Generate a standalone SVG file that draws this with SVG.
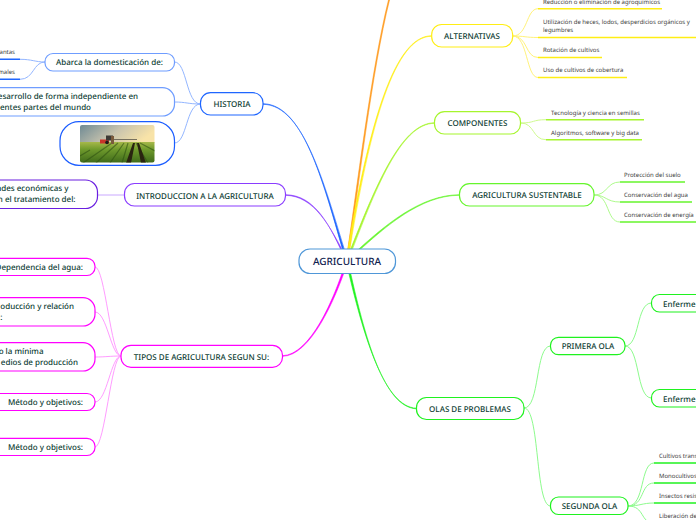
<svg xmlns="http://www.w3.org/2000/svg" width="696" height="520" viewBox="0 0 696 520">
<style>
text{font-family:"Noto Sans","Open Sans","Liberation Sans",sans-serif;fill:#0d3d33;text-rendering:geometricPrecision}
.m{font-size:8px;font-weight:500;text-anchor:middle}
.t{font-size:8px;font-weight:500}
.e{text-anchor:end}
.s{font-size:6px;fill:#3a3a3a}
.n{fill:#fff;stroke-width:1.2}
.c{fill:none;stroke-width:1}
.u{fill:none;stroke-width:1.5}
.b{stroke-width:0.6}
</style>
<defs>
<linearGradient id="sky" x1="0" y1="0" x2="1" y2="0.3"><stop offset="0" stop-color="#6f8a94"/><stop offset="0.55" stop-color="#c9c4ae"/><stop offset="1" stop-color="#f8e3a8"/></linearGradient>
<linearGradient id="fld" x1="0" y1="0" x2="0" y2="1"><stop offset="0" stop-color="#a6b84a"/><stop offset="0.35" stop-color="#6f9a2c"/><stop offset="1" stop-color="#3f6a1a"/></linearGradient>
<clipPath id="ph"><rect x="80" y="125" width="74.500" height="37.500" rx="2"/></clipPath>
</defs>
<g id="connectors">
<path class="b" fill="#1f66ff" stroke="#1f66ff" d="M346,261C325,190 305,104 263,103.700L263,104.300C305.500,105 325.500,190 348,261Z"/>
<path class="b" fill="#8a3dff" stroke="#8a3dff" d="M346,261C330,225 315,195 285.500,194.700L285.500,195.300C314.500,196 330,226 348,261Z"/>
<path class="b" fill="#f0f" stroke="#f0f" d="M346,261C334,300 310,355 282.500,355.700L282.500,356.300C310,356 335,301 348,261Z"/>
<path class="b" fill="#ff9a1f" stroke="#ff9a1f" d="M346,261C357,190 371,70 388.500,0L389.500,0C372,70 358,190 348,261Z"/>
<path class="b" fill="#ffee14" stroke="#ffee14" d="M346,261C369,120 395,36 431.500,35.700L431.500,36.300C395.500,36.500 370,120 348,261Z"/>
<path class="b" fill="#a6f52d" stroke="#a6f52d" d="M346,261C374,190 400,123 434.500,122.700L434.500,123.300C400.500,123.500 375,190 348,261Z"/>
<path class="b" fill="#66f52d" stroke="#66f52d" d="M346,261C384,225 420,195 459.500,194.700L459.500,195.300C420.500,195.500 385,226 348,261Z"/>
<path class="b" fill="#1ff21f" stroke="#1ff21f" d="M346,261C364,340 385,407 416.500,408.200L416.500,408.800C384.500,407.500 365,340 348,261Z"/>
<g stroke="#93b6ff" class="c">
<path d="M200.500,104C186,104 187,62 174.500,62"/>
<path d="M200.500,104C188,104 186,102 174.500,102"/>
<path d="M200.500,104C186,104 187,143 174.500,143"/>
<path d="M45,62C35,62 32,59.300 20,59.300"/>
<path d="M45,62C33,62 34,79.300 20,79.300"/>
</g>
<path d="M124.500,195H97.500" stroke="#c9a8ff" class="c"/>
<g stroke="#ff9cff" class="c">
<path d="M121,356C111,356 105,267 95,267"/>
<path d="M121,356C111,356 107,312 95,312"/>
<path d="M121,356C110,356 106,357 95,357"/>
<path d="M121,356C111,356 107,402 95,402"/>
<path d="M121,356C111,356 105,447 95,447"/>
</g>
<g stroke="#fff27a" class="c">
<path d="M512.700,36C528,36 526,8.700 538,8.700"/>
<path d="M512.700,36C525,36 525,37.500 538,37.500"/>
<path d="M512.700,36C528,36 525,57.500 538,57.500"/>
<path d="M512.700,36C528,36 526,77.500 538,77.500"/>
</g>
<g stroke="#cffa8f" class="c">
<path d="M520.500,123C535,123 532,119.700 546,119.700"/>
<path d="M520.500,123C535,123 532,139.700 546,139.700"/>
</g>
<g stroke="#aefb8c" class="c">
<path d="M594,195C608,195 606,182 620,182"/>
<path d="M594,195C606,195 606,202 620,202"/>
<path d="M594,195C610,195 606,222 620,222"/>
</g>
<g stroke="#8dfb8d" class="c">
<path d="M524,408C540,408 535,346 550.500,346"/>
<path d="M524,408C540,408 535,506 550.500,506"/>
<path d="M625,346C640,346 636,303 651.500,303"/>
<path d="M625,346C640,346 636,398 651.500,398"/>
<path d="M628,506C645,506 640,463 654,463"/>
<path d="M628,506C645,506 640,483 654,483"/>
<path d="M628,506C640,506 642,503 654,503"/>
<path d="M628,506C645,506 640,523 654,523"/>
</g>
<path d="M0,59.300H20M0,79.300H20" stroke="#1f66ff" class="u"/>
<g stroke="#ffee14" class="u"><path d="M538,8.700H662"/><path d="M538,37.500H696"/><path d="M538,57.500H602"/><path d="M538,77.500H627"/></g>
<g stroke="#a6f52d" class="u"><path d="M546,119.700H644"/><path d="M546,139.700H642"/></g>
<g stroke="#66f52d" class="u"><path d="M620,182H685"/><path d="M620,202H692"/><path d="M620,222H696"/></g>
<g stroke="#1ff21f" class="u"><path d="M654,463H696"/><path d="M654,483H696"/><path d="M654,503H696"/></g>
</g>
<g id="n-central"><rect class="n" x="299" y="249" width="96.500" height="24.500" rx="11" stroke="#4f97d8"/><text x="347" y="265" class="m" style="font-size:10px;fill:#10224f">AGRICULTURA</text></g>
<g id="n-historia"><rect class="n" x="200.500" y="92.700" width="62.500" height="22.300" rx="10" stroke="#1f66ff"/><text x="232" y="107" class="m">HISTORIA</text></g>
<g id="n-abarca"><rect class="n" x="45" y="53.500" width="129.500" height="17.500" rx="8" stroke="#6f9dff"/><text x="109.500" y="65" class="m">Abarca la domesticación de:</text></g>
<g id="n-plantas"><text x="15" y="54" class="s e">antas</text></g>
<g id="n-animales"><text x="15" y="74" class="s e">males</text></g>
<g id="n-desarrollo"><rect class="n" x="-30" y="87.700" width="204.500" height="28.300" rx="12" stroke="#6f9dff"/><text x="138" y="99" class="t e">esarrollo de forma independiente en</text><text x="91" y="110" class="t e">entes partes del mundo</text></g>
<g id="n-imagen"><rect class="n" x="60" y="121.700" width="114.500" height="43.600" rx="19" stroke="#1a5cff"/>
<g clip-path="url(#ph)">
<rect x="80" y="125" width="75" height="18" fill="url(#sky)"/>
<rect x="80" y="142" width="75" height="21" fill="url(#fld)"/>
<path d="M83,163L112,143M96,163L118,143M110,163L124,143M122,163L128,143M148,163L136,143M90,150L80,156M155,151L140,143" stroke="#2f5212" stroke-width="1.200" fill="none" opacity="0.6"/>
<path d="M133,143L126,163H131L135,143ZM137,143L141,163H146L139,143Z" fill="#2a2410"/>
<path d="M113,139.500H137" stroke="#5a564a" stroke-width="0.800"/>
<rect x="100" y="139.500" width="9" height="4" fill="#c8342a"/>
<rect x="106" y="135.500" width="7" height="5" fill="#3d3a36"/>
<rect x="111" y="136" width="3" height="8" fill="#7a5a3c"/>
<circle cx="107" cy="142.500" r="1.800" fill="#1c1c1a"/>
</g></g>
<g id="n-intro"><rect class="n" x="124.500" y="183.500" width="161" height="22.500" rx="10" stroke="#8a3dff"/><text x="205" y="198.500" class="m">INTRODUCCION A LA AGRICULTURA</text></g>
<g id="n-actividades"><rect class="n" x="-30" y="180" width="127.500" height="28.500" rx="12" stroke="#6a1fe0"/><text x="68.500" y="191" class="t e">ades económicas y</text><text x="75.500" y="202" class="t e">n el tratamiento del:</text></g>
<g id="n-tipos"><rect class="n" x="121" y="345.300" width="161.500" height="22" rx="10" stroke="#f0f"/><text x="201.500" y="359.500" class="m">TIPOS DE AGRICULTURA SEGUN SU:</text></g>
<g id="n-tipo1"><rect class="n" x="-30" y="258.300" width="125" height="17.200" rx="8" stroke="#f0f"/><text x="83" y="270" class="t e">Dependencia del agua:</text></g>
<g id="n-tipo2"><rect class="n" x="-30" y="297.700" width="125" height="28.300" rx="12" stroke="#f0f"/><text x="74" y="309" class="t e">oducción y relación</text><text x="2.500" y="320" class="t e">:</text></g>
<g id="n-tipo3"><rect class="n" x="-30" y="342.700" width="125" height="28.300" rx="12" stroke="#f0f"/><text x="43.500" y="353.500" class="t e">o la mínima</text><text x="78" y="365" class="t e">edios de producción</text></g>
<g id="n-tipo4"><rect class="n" x="-30" y="393.500" width="125" height="17" rx="8" stroke="#f0f"/><text x="83" y="405" class="t e">Método y objetivos:</text></g>
<g id="n-tipo5"><rect class="n" x="-30" y="438.300" width="125" height="17.200" rx="8" stroke="#f0f"/><text x="83" y="450" class="t e">Método y objetivos:</text></g>
<g id="n-alternativas"><rect class="n" x="431.700" y="24.500" width="81" height="22.500" rx="10" stroke="#ffee14"/><text x="472" y="39" class="m">ALTERNATIVAS</text></g>
<g id="n-alt1"><text x="543" y="4" class="s">Reducción o eliminación de agroquímicos</text></g>
<g id="n-alt2"><text x="543" y="24" class="s">Utilización de heces, lodos, desperdicios orgánicos y</text><text x="543" y="32" class="s">legumbres</text></g>
<g id="n-alt3"><text x="543" y="52" class="s">Rotación de cultivos</text></g>
<g id="n-alt4"><text x="543" y="72" class="s">Uso de cultivos de cobertura</text></g>
<g id="n-componentes"><rect class="n" x="434.500" y="111.700" width="86" height="22.300" rx="10" stroke="#a6f52d"/><text x="477.500" y="126" class="m">COMPONENTES</text></g>
<g id="n-comp1"><text x="551" y="115" class="s">Tecnología y ciencia en semillas</text></g>
<g id="n-comp2"><text x="551" y="135" class="s">Algoritmos, software y big data</text></g>
<g id="n-sustentable"><rect class="n" x="459.500" y="183.700" width="134.500" height="22.300" rx="10" stroke="#66f52d"/><text x="527" y="198" class="m">AGRICULTURA SUSTENTABLE</text></g>
<g id="n-sus1"><text x="624" y="177" class="s">Protección del suelo</text></g>
<g id="n-sus2"><text x="624" y="197" class="s">Conservación del agua</text></g>
<g id="n-sus3"><text x="624" y="217" class="s">Conservación de energía</text></g>
<g id="n-olas"><rect class="n" x="416.500" y="397.500" width="107.500" height="22" rx="10" stroke="#1ff21f"/><text x="470" y="411.500" class="m">OLAS DE PROBLEMAS</text></g>
<g id="n-primera"><rect class="n" x="550.500" y="337.300" width="74.500" height="17.400" rx="8" stroke="#1ff21f"/><text x="588" y="349" class="m">PRIMERA OLA</text></g>
<g id="n-segunda"><rect class="n" x="550.500" y="497" width="77.500" height="17.500" rx="8" stroke="#1ff21f"/><text x="589.500" y="509" class="m">SEGUNDA OLA</text></g>
<g id="n-enf1"><rect class="n" x="651.500" y="294.500" width="70" height="17.500" rx="8" stroke="#1ff21f"/><text x="663" y="307" class="t">Enferme</text></g>
<g id="n-enf2"><rect class="n" x="651.500" y="389.500" width="70" height="17.500" rx="8" stroke="#1ff21f"/><text x="663" y="402" class="t">Enferme</text></g>
<g id="n-seg1"><text x="659" y="458" class="s">Cultivos trans</text></g>
<g id="n-seg2"><text x="659" y="478" class="s">Monocultivos</text></g>
<g id="n-seg3"><text x="659" y="498" class="s">Insectos resis</text></g>
<g id="n-seg4"><text x="659" y="518" class="s">Liberación de</text></g>
</svg>
